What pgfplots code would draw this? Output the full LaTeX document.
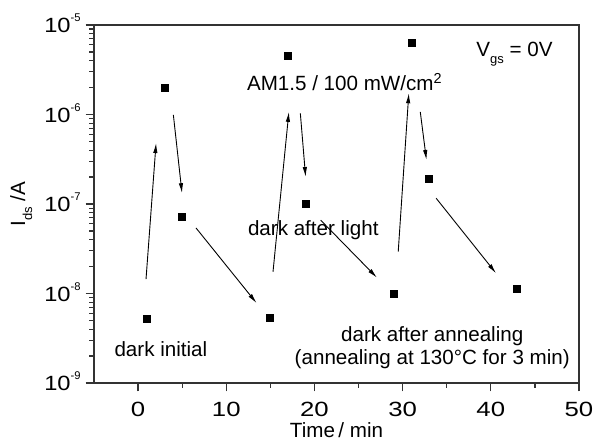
\documentclass[border=0pt]{standalone}
\usepackage{fontspec}
\setmainfont{Liberation Sans}
\usepackage{graphicx}
\usepackage{pgfplots}
\pgfplotsset{compat=1.18}
\usetikzlibrary{arrows.meta}
\newcommand{\sub}[1]{\raisebox{-3.5pt}{\fontsize{6.5}{7}\selectfont #1}}
\newcommand{\tk}[1]{\scalebox{1.25}[1]{#1}}
\newcommand{\ytk}[1]{\scalebox{1.15}[1]{10}\raisebox{5.3pt}{\fontsize{5.6}{6}\selectfont #1}}
\begin{document}
\fontsize{10.3}{12.4}\selectfont
\begin{tikzpicture}
\begin{axis}[
  scale only axis,
  width=242.5pt, height=179pt,
  xmin=-5, xmax=50,
  ymode=log, ymin=1e-9, ymax=1e-5,
  axis line style={black!80, line width=0.65pt},
  every tick/.style={black!80, line width=0.6pt},
  tick align=outside,
  xtick pos=bottom, ytick pos=left,
  xtick={0,10,20,30,40,50},
  xticklabels={\tk{0},\tk{10},\tk{20},\tk{30},\tk{40},\tk{50}},
  minor xtick={5,15,25,35,45},
  ytick={1e-9,1e-8,1e-7,1e-6,1e-5},
  yticklabels={\ytk{-9},\ytk{-8},\ytk{-7},\ytk{-6},\ytk{-5}},
  minor ytick={2e-9,3e-9,4e-9,5e-9,6e-9,7e-9,8e-9,9e-9,
               2e-8,3e-8,4e-8,5e-8,6e-8,7e-8,8e-8,9e-8,
               2e-7,3e-7,4e-7,5e-7,6e-7,7e-7,8e-7,9e-7,
               2e-6,3e-6,4e-6,5e-6,6e-6,7e-6,8e-6,9e-6},
  major tick length=4.2pt,
  minor tick length=2.4pt,
  xticklabel style={anchor=base, inner sep=0pt, yshift=-12.3pt},
  yticklabel style={anchor=base east, inner sep=0pt, xshift=-2.3pt, yshift=-3.75pt},
  xlabel={Time\,/ min},
  xlabel style={at={(axis description cs:0.5,-0.151)}, anchor=base, inner sep=0pt},
  ylabel={I\sub{ds} /A},
  ylabel style={at={(axis description cs:-0.15,0.5)}, anchor=center, inner sep=0pt},
  clip=false,
]
\addplot[only marks, mark=square*, mark size=1.75pt, black] coordinates {
  (1,5.15e-9) (3,2e-6) (5,7.2e-8) (15,5.4e-9) (17,4.5e-6) (19,1e-7)
  (29,9.8e-9) (31,6.3e-6) (33,1.89e-7) (43,1.13e-8)};
\begin{scope}[line width=0.45pt, -{Latex[length=5pt,width=2.2pt]}]
\draw (axis cs:0.9,1.45e-8) -- (axis cs:2.04,4.8e-7);
\draw (axis cs:4.0,9.9e-7) -- (axis cs:4.98,1.32e-7);
\draw (axis cs:6.57,5.4e-8) -- (axis cs:13.44,7.8e-9);
\draw (axis cs:15.3,1.75e-8) -- (axis cs:17.1,1.07e-6);
\draw (axis cs:18.4,1.03e-6) -- (axis cs:19.0,2.0e-7);
\draw (axis cs:20.7,6.6e-8) -- (axis cs:27.1,1.5e-8);
\draw (axis cs:29.5,2.93e-8) -- (axis cs:30.7,1.73e-6);
\draw (axis cs:32.0,1.07e-6) -- (axis cs:32.7,3.1e-7);
\draw (axis cs:33.8,1.16e-7) -- (axis cs:40.6,1.68e-8);
\end{scope}
\node[anchor=base west, inner sep=0pt] at (axis cs:-2.72,1.97e-9) {dark initial};
\node[anchor=base west, inner sep=0pt] at (axis cs:12.31,1.85e-6) {AM1.5 / 100 mW/cm\textsuperscript{2}};
\node[anchor=base west, inner sep=0pt] at (axis cs:12.42,4.5e-8) {dark after light};
\node[anchor=base, inner sep=0pt] at (axis cs:33.36,2.89e-9) {dark after annealing};
\node[anchor=base, inner sep=0pt] at (axis cs:33.36,1.59e-9) {(annealing at 130°C for 3 min)};
\node[anchor=base west, inner sep=0pt] at (axis cs:38.33,4.42e-6) {V\sub{gs} = 0V};
\coordinate (sw) at (rel axis cs:0,0);
\coordinate (ne) at (rel axis cs:1,1);
\end{axis}
\pgfresetboundingbox
\path ([shift={(-47pt,-28pt)}]sw) rectangle ([shift={(7pt,12.5pt)}]ne);
\end{tikzpicture}
\end{document}
